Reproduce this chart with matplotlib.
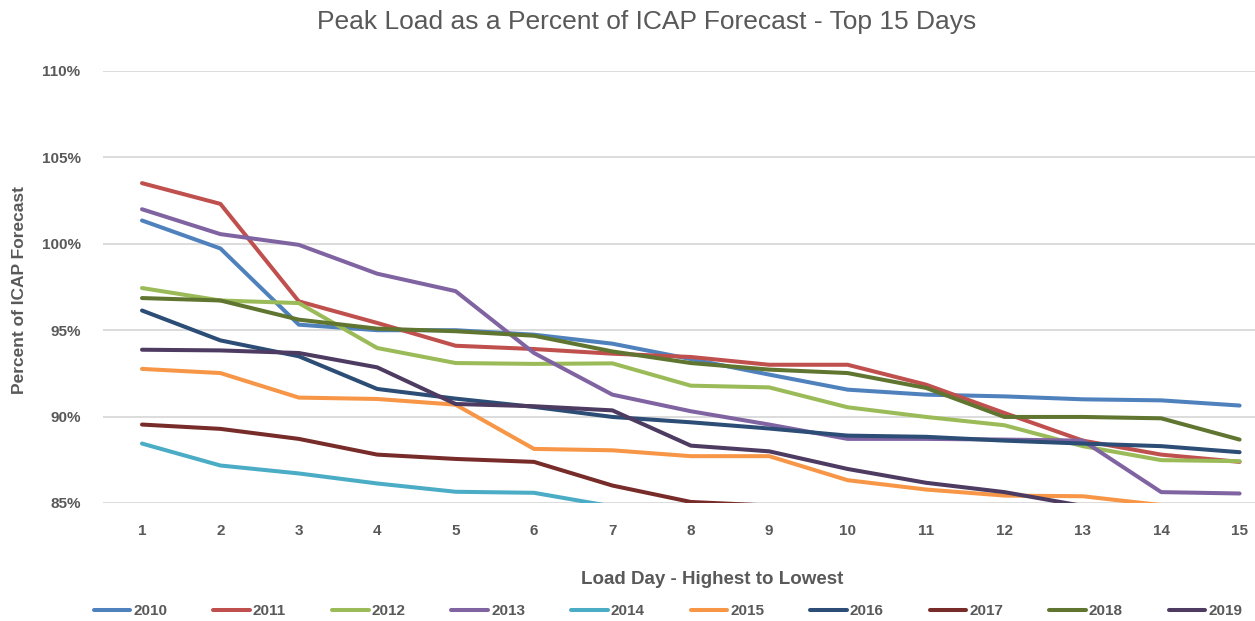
import matplotlib
matplotlib.use("Agg")
import matplotlib.pyplot as plt
from matplotlib.ticker import FuncFormatter

plt.rcParams['font.family'] = ['Liberation Sans', 'DejaVu Sans']

# Load day (highest to lowest) and yearly peak loads as % of ICAP forecast
days = list(range(1, 16))
years = ['2010', '2011', '2012', '2013', '2014', '2015', '2016', '2017', '2018', '2019']

y2010 = [101.35, 99.73, 95.32, 95.0, 95.0, 94.74, 94.22, 93.33, 92.43, 91.56, 91.27, 91.17, 91.0, 90.94, 90.64]
y2011 = [103.51, 102.31, 96.67, 95.42, 94.1, 93.91, 93.64, 93.45, 93.0, 93.0, 91.85, 90.21, 88.61, 87.8, 87.38]
y2012 = [97.44, 96.72, 96.57, 93.97, 93.1, 93.05, 93.08, 91.79, 91.69, 90.54, 89.98, 89.5, 88.29, 87.48, 87.42]
y2013 = [102.0, 100.56, 99.94, 98.27, 97.26, 93.68, 91.27, 90.31, 89.54, 88.71, 88.71, 88.67, 88.61, 85.63, 85.55]
y2014 = [88.44, 87.17, 86.71, 86.13, 85.65, 85.59, 84.8, 84.5, 84.2, 83.9, 83.6, 83.3, 83.0, 82.8, 82.5]
y2015 = [92.76, 92.52, 91.1, 91.02, 90.69, 88.13, 88.05, 87.71, 87.71, 86.32, 85.78, 85.43, 85.39, 84.88, 84.5]
y2016 = [96.14, 94.41, 93.49, 91.6, 91.04, 90.56, 89.98, 89.67, 89.31, 88.9, 88.83, 88.61, 88.44, 88.29, 87.94]
y2017 = [89.54, 89.29, 88.71, 87.8, 87.55, 87.38, 86.01, 85.06, 84.85, 84.5, 84.2, 84.0, 83.8, 83.6, 83.4]
y2018 = [96.86, 96.72, 95.61, 95.09, 94.94, 94.68, 93.77, 93.1, 92.72, 92.52, 91.66, 89.98, 89.98, 89.9, 88.67]
y2019 = [93.87, 93.83, 93.68, 92.85, 90.73, 90.6, 90.36, 88.32, 87.99, 86.97, 86.17, 85.63, 84.83, 84.4, 84.0]

series = [y2010, y2011, y2012, y2013, y2014, y2015, y2016, y2017, y2018, y2019]
colors = ['#4F81BD', '#C0504D', '#9BBB59', '#8064A2', '#4BACC6',
          '#F79646', '#2C4D75', '#772C2A', '#5F7530', '#4D3B62']

fig = plt.figure(figsize=(12.55, 6.21), dpi=100)
ax = fig.add_axes([102.8 / 1255, 1 - 503 / 621, 1176 / 1255, 432 / 621])

for name, vals, c in zip(years, series, colors):
    ax.plot(days, vals, color=c, lw=2.9, label=name,
            solid_capstyle='round', solid_joinstyle='round')

ax.set_xlim(0.5, 15.5)
ax.set_ylim(85, 110)
ax.set_yticks([85, 90, 95, 100, 105, 110])
ax.yaxis.set_major_formatter(FuncFormatter(lambda v, p: f'{v:.0f}%'))
ax.set_xticks(days)

ax.grid(axis='y', color='#D9D9D9', lw=1.3)
ax.set_axisbelow(True)
for s in ax.spines.values():
    s.set_visible(False)
ax.tick_params(length=0, colors='#595959', labelsize=11)
ax.tick_params(axis='x', pad=15)
ax.tick_params(axis='y', pad=16)
for lbl in ax.get_xticklabels() + ax.get_yticklabels():
    lbl.set_fontweight('bold')

fig.text(647 / 1255, 1 - 22 / 621, 'Peak Load as a Percent of ICAP Forecast - Top 15 Days',
         ha='center', va='center', fontsize=19, color='#595959')
fig.text(712 / 1255, 1 - 579 / 621, 'Load Day - Highest to Lowest',
         ha='center', va='center', fontsize=13.5, color='#595959', fontweight='bold')
fig.text(20 / 1255, 1 - 290 / 621, 'Percent of ICAP Forecast', rotation=90,
         ha='center', va='center', fontsize=12.5, color='#595959', fontweight='bold')

leg = fig.legend(loc='center', bbox_to_anchor=(668 / 1255, 1 - 611 / 621), ncol=10,
                 frameon=False, handlelength=2.4, handletextpad=0.2,
                 columnspacing=3.0, prop={'size': 11, 'weight': 'bold'})
for t in leg.get_texts():
    t.set_color('#595959')

fig.savefig('out.png', dpi=100)
